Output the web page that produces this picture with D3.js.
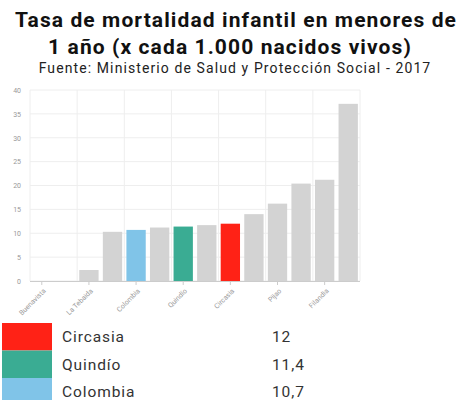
<!DOCTYPE html>
<html>
<head>
<meta charset="utf-8">
<script src="https://cdn.jsdelivr.net/npm/d3@7"></script>
<style>
  body { margin: 0; background: #fff; }
  svg { display: block; font-family: Roboto, sans-serif; }
</style>
</head>
<body>
<script>
// municipios ordenados por tasa (solo se rotulan uno de cada dos)
var municipios = ["Buenavista", "Córdoba", "La Tebaida", "Salento", "Colombia", "Armenia",
  "Quindío", "Calarcá", "Circasia", "Montenegro", "Pijao", "Quimbaya", "Filandia", "Génova"];
var tasas = [0, 0, 2.3, 10.3, 10.7, 11.2, 11.4, 11.7, 12, 14, 16.2, 20.4, 21.2, 37.1];
var yTicks = [0, 5, 10, 15, 20, 25, 30, 35, 40];

var destacados = ["Circasia", "Quindío", "Colombia"];
var destacadosValor = ["12", "11,4", "10,7"];
var destacadosColor = ["#ff2216", "#3aac93", "#80c4e8"];

var margin = { top: 90, left: 30, bottom: 119, right: 100 };
var width = 460 - margin.left - margin.right;
var height = 400 - margin.top - margin.bottom;

var svg = d3.create("svg").attr("width", 460).attr("height", 400);

// titulo
var titulo = svg.append("g").attr("text-anchor", "middle");
titulo.append("text").attr("x", 236).attr("y", 27)
  .attr("font-size", 21).attr("font-weight", "bold").attr("fill", "#111")
  .attr("letter-spacing", 1.1)
  .text("Tasa de mortalidad infantil en menores de");
titulo.append("text").attr("x", 230).attr("y", 54)
  .attr("font-size", 21).attr("font-weight", "bold").attr("fill", "#111")
  .attr("letter-spacing", 1.1)
  .text("1 año (x cada 1.000 nacidos vivos)");
titulo.append("text").attr("x", 235).attr("y", 73)
  .attr("font-size", 14).attr("fill", "#222")
  .attr("letter-spacing", 1.1)
  .text("Fuente: Ministerio de Salud y Protección Social - 2017");

var x = d3.scaleBand().domain(municipios).range([0, width]).paddingInner(0.18).paddingOuter(0.09);
var y = d3.scaleLinear().domain([0, 40]).range([height, 0]);

var chart = svg.append("g").attr("transform", `translate(${margin.left},${margin.top})`);

// rejilla horizontal
chart.append("g").selectAll("line").data(yTicks).join("line")
  .attr("x1", 0).attr("x2", width)
  .attr("y1", (d) => y(d)).attr("y2", (d) => y(d))
  .attr("stroke", "#eee");

// rejilla vertical (entre pares de barras)
var step = x.step();
var vLines = municipios.filter((d, i) => i % 2 == 0);
chart.append("g").selectAll("line").data(vLines).join("line")
  .attr("x1", (d) => x(d) - step * x.paddingOuter())
  .attr("x2", (d) => x(d) - step * x.paddingOuter())
  .attr("y1", 0).attr("y2", height)
  .attr("stroke", "#eee");
chart.append("line").attr("x1", width).attr("x2", width).attr("y1", 0).attr("y2", height).attr("stroke", "#eee");

// barras
chart.selectAll(".bar").data(municipios).join("rect")
  .attr("class", "bar")
  .attr("x", (d) => x(d))
  .attr("width", x.bandwidth())
  .attr("y", (d, i) => y(tasas[i]))
  .attr("height", (d, i) => height - y(tasas[i]))
  .attr("fill", (d) => {
    var k = destacados.indexOf(d);
    return k >= 0 ? destacadosColor[k] : "#d3d3d3";
  });

// eje y
var yAxis = chart.append("g").call(d3.axisLeft(y).tickValues(yTicks).tickSize(0).tickPadding(9));
yAxis.select(".domain").remove();
yAxis.selectAll("text").attr("font-size", 7).attr("fill", "#999").attr("font-family", "Roboto, sans-serif");

// eje x
var xAxis = chart.append("g").attr("transform", `translate(0,${height})`)
  .call(d3.axisBottom(x).tickValues(vLines).tickSize(4));
xAxis.select(".domain").attr("stroke", "#ccc").attr("d", `M0,0.5H${width}`);
xAxis.selectAll(".tick line").attr("stroke", "#ccc");
xAxis.selectAll("text")
  .attr("font-size", 7).attr("fill", "#999").attr("font-family", "Roboto, sans-serif")
  .attr("text-anchor", "end")
  .attr("dy", "0.3em")
  .attr("transform", "translate(-2,4) rotate(-45)");

// leyenda
var leyenda = svg.append("g").attr("transform", "translate(2,323)");
var fila = leyenda.selectAll("g").data(destacados).join("g")
  .attr("transform", (d, i) => `translate(0,${i * 27.5})`);
fila.append("rect").attr("width", 50).attr("height", 27.5)
  .attr("fill", (d, i) => destacadosColor[i]);
fila.append("text").attr("x", 60).attr("y", 19)
  .attr("font-size", 15.5).attr("fill", "#333").attr("letter-spacing", 0.9).text((d) => d);
fila.append("text").attr("x", 270).attr("y", 19)
  .attr("font-size", 15.5).attr("fill", "#333").attr("letter-spacing", 0.9).text((d, i) => destacadosValor[i]);

d3.select("body").append(() => svg.node());
</script>
</body>
</html>
